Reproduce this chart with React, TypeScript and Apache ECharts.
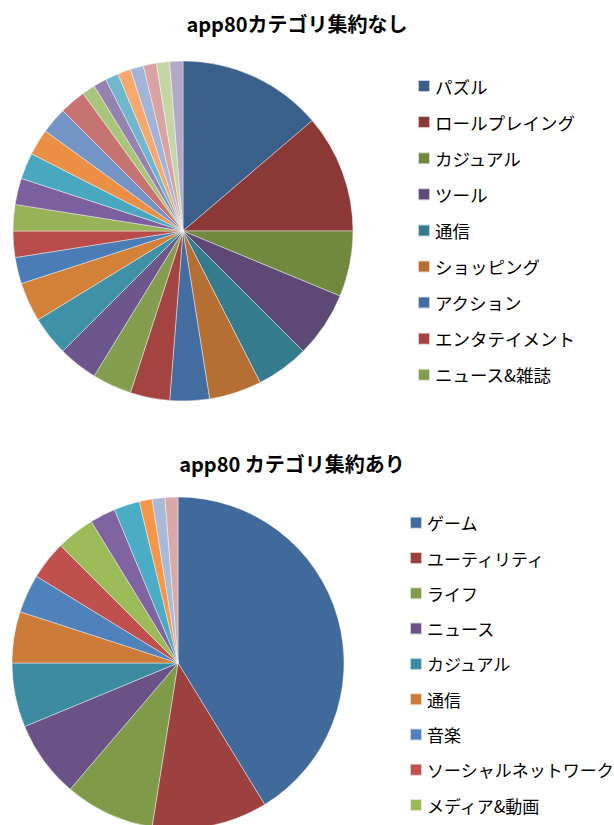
import React, { useEffect, useRef } from "react";
import * as echarts from "echarts";

const topTitle = "app80カテゴリ集約なし";
const bottomTitle = "app80 カテゴリ集約あり";

const topCategories = [
  "パズル", "ロールプレイング", "カジュアル", "ツール", "通信", "ショッピング",
  "アクション", "エンタテイメント", "ニュース&雑誌", "写真", "音楽&オーディオ", "ソーシャルネットワーク",
  "ライフスタイル", "仕事効率化", "ビジネス", "書籍&参考書", "教育", "天気",
  "交通", "旅行&地域", "スポーツ", "健康&フィットネス", "ファイナンス", "コミック",
  "メディア&動画", "カスタマイズ", "ウィジェット", "レーシング",
];
const topValues = [11, 9, 5, 5, 4, 4, 3, 3, 3, 3, 3, 3, 2, 2, 2, 2, 2, 2, 2, 2, 1, 1, 1, 1, 1, 1, 1, 1];
const topColors = [
  "#3A5F8B", "#8C3836", "#71893F", "#5E4876", "#347B8E", "#B66F32",
  "#436DA0", "#A34442", "#849D4E", "#6D568C", "#3F91A7", "#D38039",
  "#4A7CB6", "#B74C4A", "#97B257", "#7C5F9E", "#4AA7C0", "#EB8F44",
  "#7394C5", "#C77371", "#A9C47B", "#9582B1", "#70B7CE", "#F7A86F",
  "#A2B5D8", "#D8A3A2", "#C4D6A5", "#B3A8C8",
];
const topLegendCount = 9;

const bottomCategories = [
  "ゲーム", "ユーティリティ", "ライフ", "ニュース", "カジュアル", "通信",
  "音楽", "ソーシャルネットワーク", "メディア&動画", "写真", "書籍", "教育",
  "天気", "ビジネス",
];
const bottomValues = [33, 9, 7, 6, 5, 4, 3, 3, 3, 2, 2, 1, 1, 1];
const bottomColors = [
  "#416A9C", "#9C413F", "#7F9A49", "#6A5287", "#3D8BA1", "#CC7B38",
  "#4F81BD", "#C0504D", "#9BBB59", "#8064A2", "#4BACC6", "#F79646",
  "#A9BAD9", "#D9A9A8",
];
const bottomLegendCount = 9;

const FONT = "'Noto Sans CJK JP', 'Noto Sans', sans-serif";

function buildOption(
  title: string,
  titleX: number,
  titleCenterY: number,
  cats: string[],
  vals: number[],
  colors: string[],
  legendCount: number,
  legendLeft: number,
  legendFirstCenterY: number,
  legendPitch: number,
  legendFont: number,
  legendIcon: number,
  center: [number, number],
  radius: number
) {
  const lh = 20;
  return {
    animation: false,
    backgroundColor: "#ffffff",
    title: {
      text: title,
      left: titleX,
      textAlign: "center",
      top: titleCenterY - 12,
      padding: 0,
      textStyle: {
        fontFamily: FONT,
        fontSize: 20,
        fontWeight: "bold",
        color: "#000000",
        lineHeight: 24,
      },
    },
    legend: {
      orient: "vertical",
      left: legendLeft,
      top: legendFirstCenterY - lh / 2,
      padding: 0,
      itemWidth: legendIcon,
      itemHeight: legendIcon,
      itemGap: legendPitch - lh,
      icon: "rect",
      selectedMode: false,
      data: cats.slice(0, legendCount),
      textStyle: {
        fontFamily: FONT,
        fontSize: legendFont,
        color: "#000000",
        lineHeight: lh,
      },
    },
    series: [
      {
        type: "pie",
        center,
        radius,
        startAngle: 90,
        clockwise: true,
        avoidLabelOverlap: false,
        label: { show: false },
        labelLine: { show: false },
        emphasis: { disabled: true },
        itemStyle: { borderColor: "rgba(255,255,255,0.7)", borderWidth: 0.6 },
        data: cats.map((name, i) => ({
          name,
          value: vals[i],
          itemStyle: { color: colors[i] },
        })),
      },
    ],
  };
}

function ChartBox(props: { height: number; option: any }) {
  const ref = useRef<HTMLDivElement>(null);
  useEffect(() => {
    if (!ref.current) return;
    const chart = echarts.init(ref.current, null, { renderer: "svg" });
    chart.setOption(props.option);
    return () => chart.dispose();
  }, []);
  return <div ref={ref} style={{ width: 614, height: props.height }} />;
}

export default function App() {
  const topOpt = buildOption(
    topTitle, 297, 23,
    topCategories, topValues, topColors, topLegendCount,
    417, 86, 36.1, 17.5, 12,
    [183, 231], 170
  );
  const bottomOpt = buildOption(
    bottomTitle, 292, 23,
    bottomCategories, bottomValues, bottomColors, bottomLegendCount,
    409, 82.7, 35.3, 17, 12,
    [178, 223], 166
  );
  return (
    <div style={{ position: "absolute", left: 0, top: 0, width: 614, height: 825, overflow: "hidden", background: "#fff" }}>
      <ChartBox height={440} option={topOpt} />
      <ChartBox height={385} option={bottomOpt} />
    </div>
  );
}
